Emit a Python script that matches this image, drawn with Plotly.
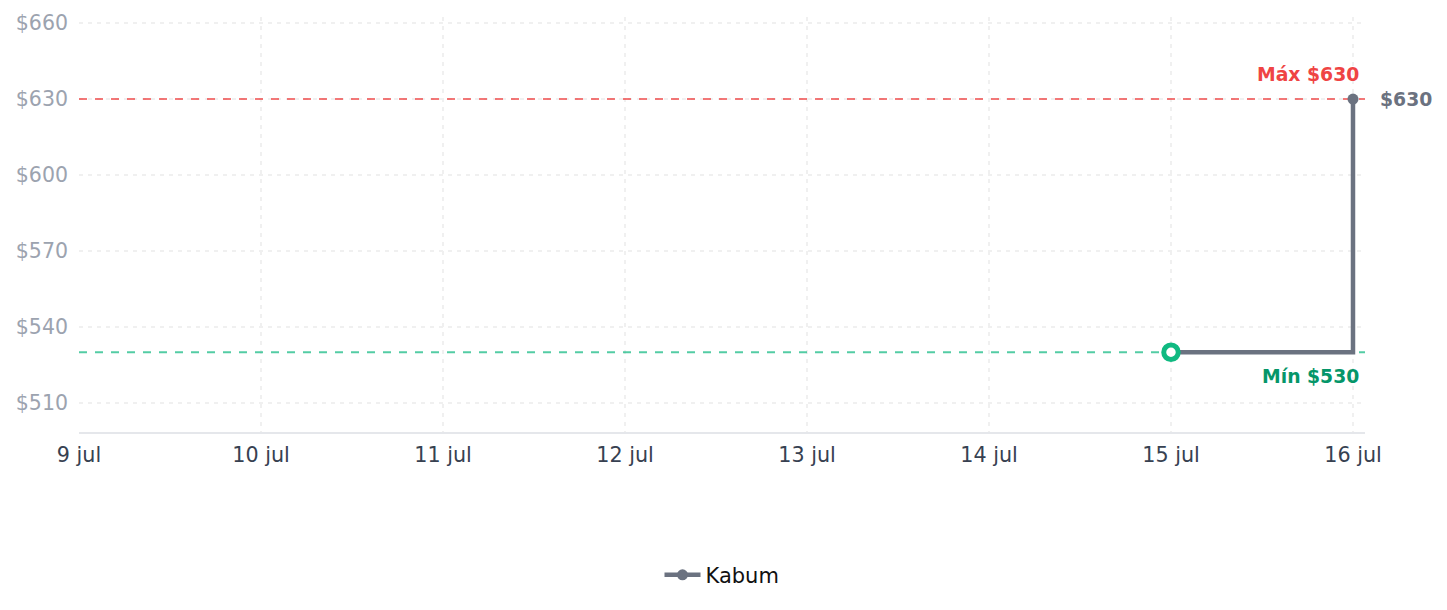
import plotly.graph_objects as go

dates = ["2024-07-15", "2024-07-16"]
prices = [530, 630]
tick_dates = ["2024-07-09", "2024-07-10", "2024-07-11", "2024-07-12",
              "2024-07-13", "2024-07-14", "2024-07-15", "2024-07-16"]
tick_labels = ["9 jul", "10 jul", "11 jul", "12 jul", "13 jul", "14 jul", "15 jul", "16 jul"]
y_ticks = [510, 540, 570, 600, 630, 660]
y_labels = ["$510", "$540", "$570", "$600", "$630", "$660"]
max_price = 630
min_price = 530
min_date = "2024-07-15"
last_date = "2024-07-16"
last_price = 630

x_range = ["2024-07-09", "2024-07-16 01:35"]
y_range = [498.5, 662.4]

FONT = "DejaVu Sans"

fig = go.Figure()
# reference lines (drawn first so they sit under the series, above the grid)
fig.add_trace(go.Scatter(
    x=x_range, y=[max_price, max_price], mode="lines", showlegend=False, hoverinfo="skip",
    line=dict(color="rgba(239,68,68,0.72)", width=2, dash="8px,8px"), cliponaxis=False,
))
fig.add_trace(go.Scatter(
    x=x_range, y=[min_price, min_price], mode="lines", showlegend=False, hoverinfo="skip",
    line=dict(color="rgba(16,185,129,0.72)", width=2, dash="8px,8px"), cliponaxis=False,
))
fig.add_trace(go.Scatter(
    x=dates, y=prices, name="Kabum", mode="lines+markers",
    line=dict(color="#6b7280", width=4.5, shape="hv"),
    marker=dict(color="#6b7280", size=11),
))
fig.add_trace(go.Scatter(
    x=[min_date], y=[min_price], mode="markers", showlegend=False,
    marker=dict(color="white", size=14.5, line=dict(color="#10b981", width=5)),
    hoverinfo="skip",
))

fig.add_annotation(x=last_date, y=max_price, text="<b>Máx $630</b>", showarrow=False,
                   xanchor="right", yanchor="bottom", xshift=8, yshift=12,
                   font=dict(family=FONT, size=18.8, color="#ef4444"))
fig.add_annotation(x=last_date, y=min_price, text="<b>Mín $530</b>", showarrow=False,
                   xanchor="right", yanchor="top", xshift=8, yshift=-12,
                   font=dict(family=FONT, size=18.8, color="#059669"))
fig.add_annotation(x=last_date, y=last_price, text="<b>$630</b>", showarrow=False,
                   xanchor="left", yanchor="middle", xshift=25,
                   font=dict(family=FONT, size=18.8, color="#6b7280"))

fig.update_layout(
    width=1447, height=610,
    margin=dict(l=79, r=82, t=17, b=178),
    paper_bgcolor="white", plot_bgcolor="white",
    font=dict(family=FONT, size=20),
    showlegend=True,
    legend=dict(orientation="h", x=0.5, xanchor="center", y=-0.345, yanchor="middle",
                itemwidth=36,
                font=dict(family=FONT, size=21, color="#111111")),
    xaxis=dict(
        type="date", range=x_range,
        tickvals=tick_dates, ticktext=tick_labels,
        tickfont=dict(family=FONT, size=20.7, color="#374151"),
        showgrid=True, gridcolor="#f0f0f0", griddash="4px,5px", gridwidth=2,
        showline=True, linecolor="#e5e7eb", linewidth=2,
        zeroline=False, ticks="", ticklabelstandoff=3,
    ),
    yaxis=dict(
        range=y_range,
        tickvals=y_ticks, ticktext=y_labels,
        tickfont=dict(family=FONT, size=20.5, color="#9ca3af"),
        showgrid=True, gridcolor="#f0f0f0", griddash="4px,5px", gridwidth=2,
        showline=False, zeroline=False, ticks="", ticklabelstandoff=10,
    ),
)

fig.write_html("out.html")
